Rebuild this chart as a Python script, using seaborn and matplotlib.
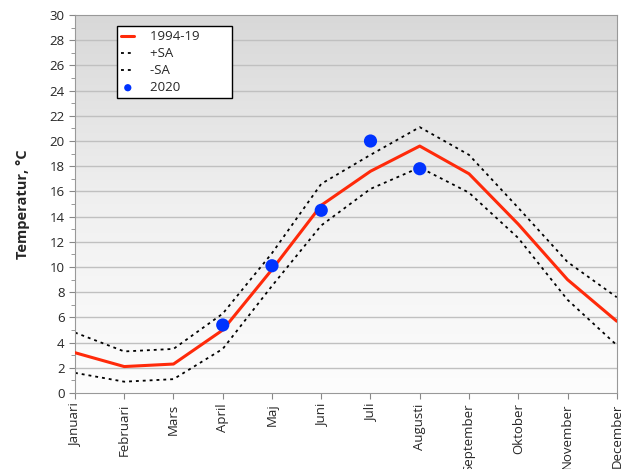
import numpy as np
import pandas as pd
import matplotlib
matplotlib.use("Agg")
import matplotlib.pyplot as plt
import seaborn as sns
from matplotlib.colors import LinearSegmentedColormap

months = ["Januari", "Februari", "Mars", "April", "Maj", "Juni", "Juli",
          "Augusti", "September", "Oktober", "November", "December"]
mean_9419 = [3.2, 2.1, 2.3, 5.0, 9.8, 14.9, 17.6, 19.6, 17.4, 13.4, 9.0, 5.7]
plus_sa = [4.8, 3.3, 3.5, 6.3, 11.1, 16.6, 18.9, 21.1, 18.9, 14.7, 10.4, 7.6]
minus_sa = [1.6, 0.9, 1.1, 3.5, 8.5, 13.3, 16.2, 17.9, 15.9, 12.3, 7.4, 3.8]
months_2020 = ["April", "Maj", "Juni", "Juli", "Augusti"]
temp_2020 = [5.4, 10.1, 14.5, 20.0, 17.8]

sns.set_style("white")
plt.rcParams['font.family'] = ['Open Sans', 'DejaVu Sans']

df = pd.DataFrame({"x": range(12), "mean": mean_9419, "plus": plus_sa, "minus": minus_sa})
df20 = pd.DataFrame({"x": [months.index(m) for m in months_2020], "t": temp_2020})

fig = plt.figure(figsize=(6.3, 4.69), dpi=100)
ax = fig.add_axes([0.119, 0.162, 0.860, 0.806])

# gradient background, grey at top fading to white
cmap = LinearSegmentedColormap.from_list("bg", ["#fdfdfd", "#f0f0f0", "#d8d8d8"])
grad = np.linspace(0, 1, 256).reshape(-1, 1)
ax.imshow(grad, cmap=cmap, origin="lower", aspect="auto",
          extent=[0, 11, 0, 30], zorder=0)

for v in range(2, 30, 2):
    ax.axhline(v, color="#c0c0c0", lw=1, zorder=1)

dots = (0, (1.6, 2.2))
sns.lineplot(data=df, x="x", y="mean", color="#ff2a0a", lw=2.2, ax=ax, label="1994-19", zorder=3)
sns.lineplot(data=df, x="x", y="plus", color="black", lw=1.3, ax=ax, label="+SA",
             linestyle=dots, zorder=2)
sns.lineplot(data=df, x="x", y="minus", color="black", lw=1.3, ax=ax, label="-SA",
             linestyle=dots, zorder=2)
sns.scatterplot(data=df20, x="x", y="t", color="#0033ff", s=90, edgecolor="none",
                ax=ax, label="2020", zorder=4)

ax.set_xlim(0, 11)
ax.set_ylim(0, 30)
ax.set_yticks(range(0, 31, 2))
ax.set_yticks(range(1, 30, 2), minor=True)
ax.set_xticks(range(12))
ax.set_xticklabels(months, rotation=90, fontsize=9.5)
ax.tick_params(axis="y", labelsize=9.5, length=4, color="#888888", direction="out", left=True)
ax.tick_params(axis="y", which="minor", length=3, color="#888888", left=True)
ax.tick_params(axis="x", length=4, color="#888888", direction="out", bottom=True)
ax.set_xlabel("")
ax.set_ylabel("Temperatur, °C", fontsize=10.5, fontweight="bold", labelpad=14)
for s in ax.spines.values():
    s.set_color("#999999")

leg = ax.legend(loc="upper left", bbox_to_anchor=(0.078, 0.97), fontsize=9.5,
                frameon=True, fancybox=False, edgecolor="black", framealpha=1,
                handlelength=1.0, handletextpad=1.2, borderpad=0.3,
                labelspacing=0.3, markerscale=0.55, borderaxespad=0)
leg.get_frame().set_linewidth(1)
for t in leg.get_texts():
    t.set_text(t.get_text() + "        ")

fig.savefig("out.png", dpi=100)
